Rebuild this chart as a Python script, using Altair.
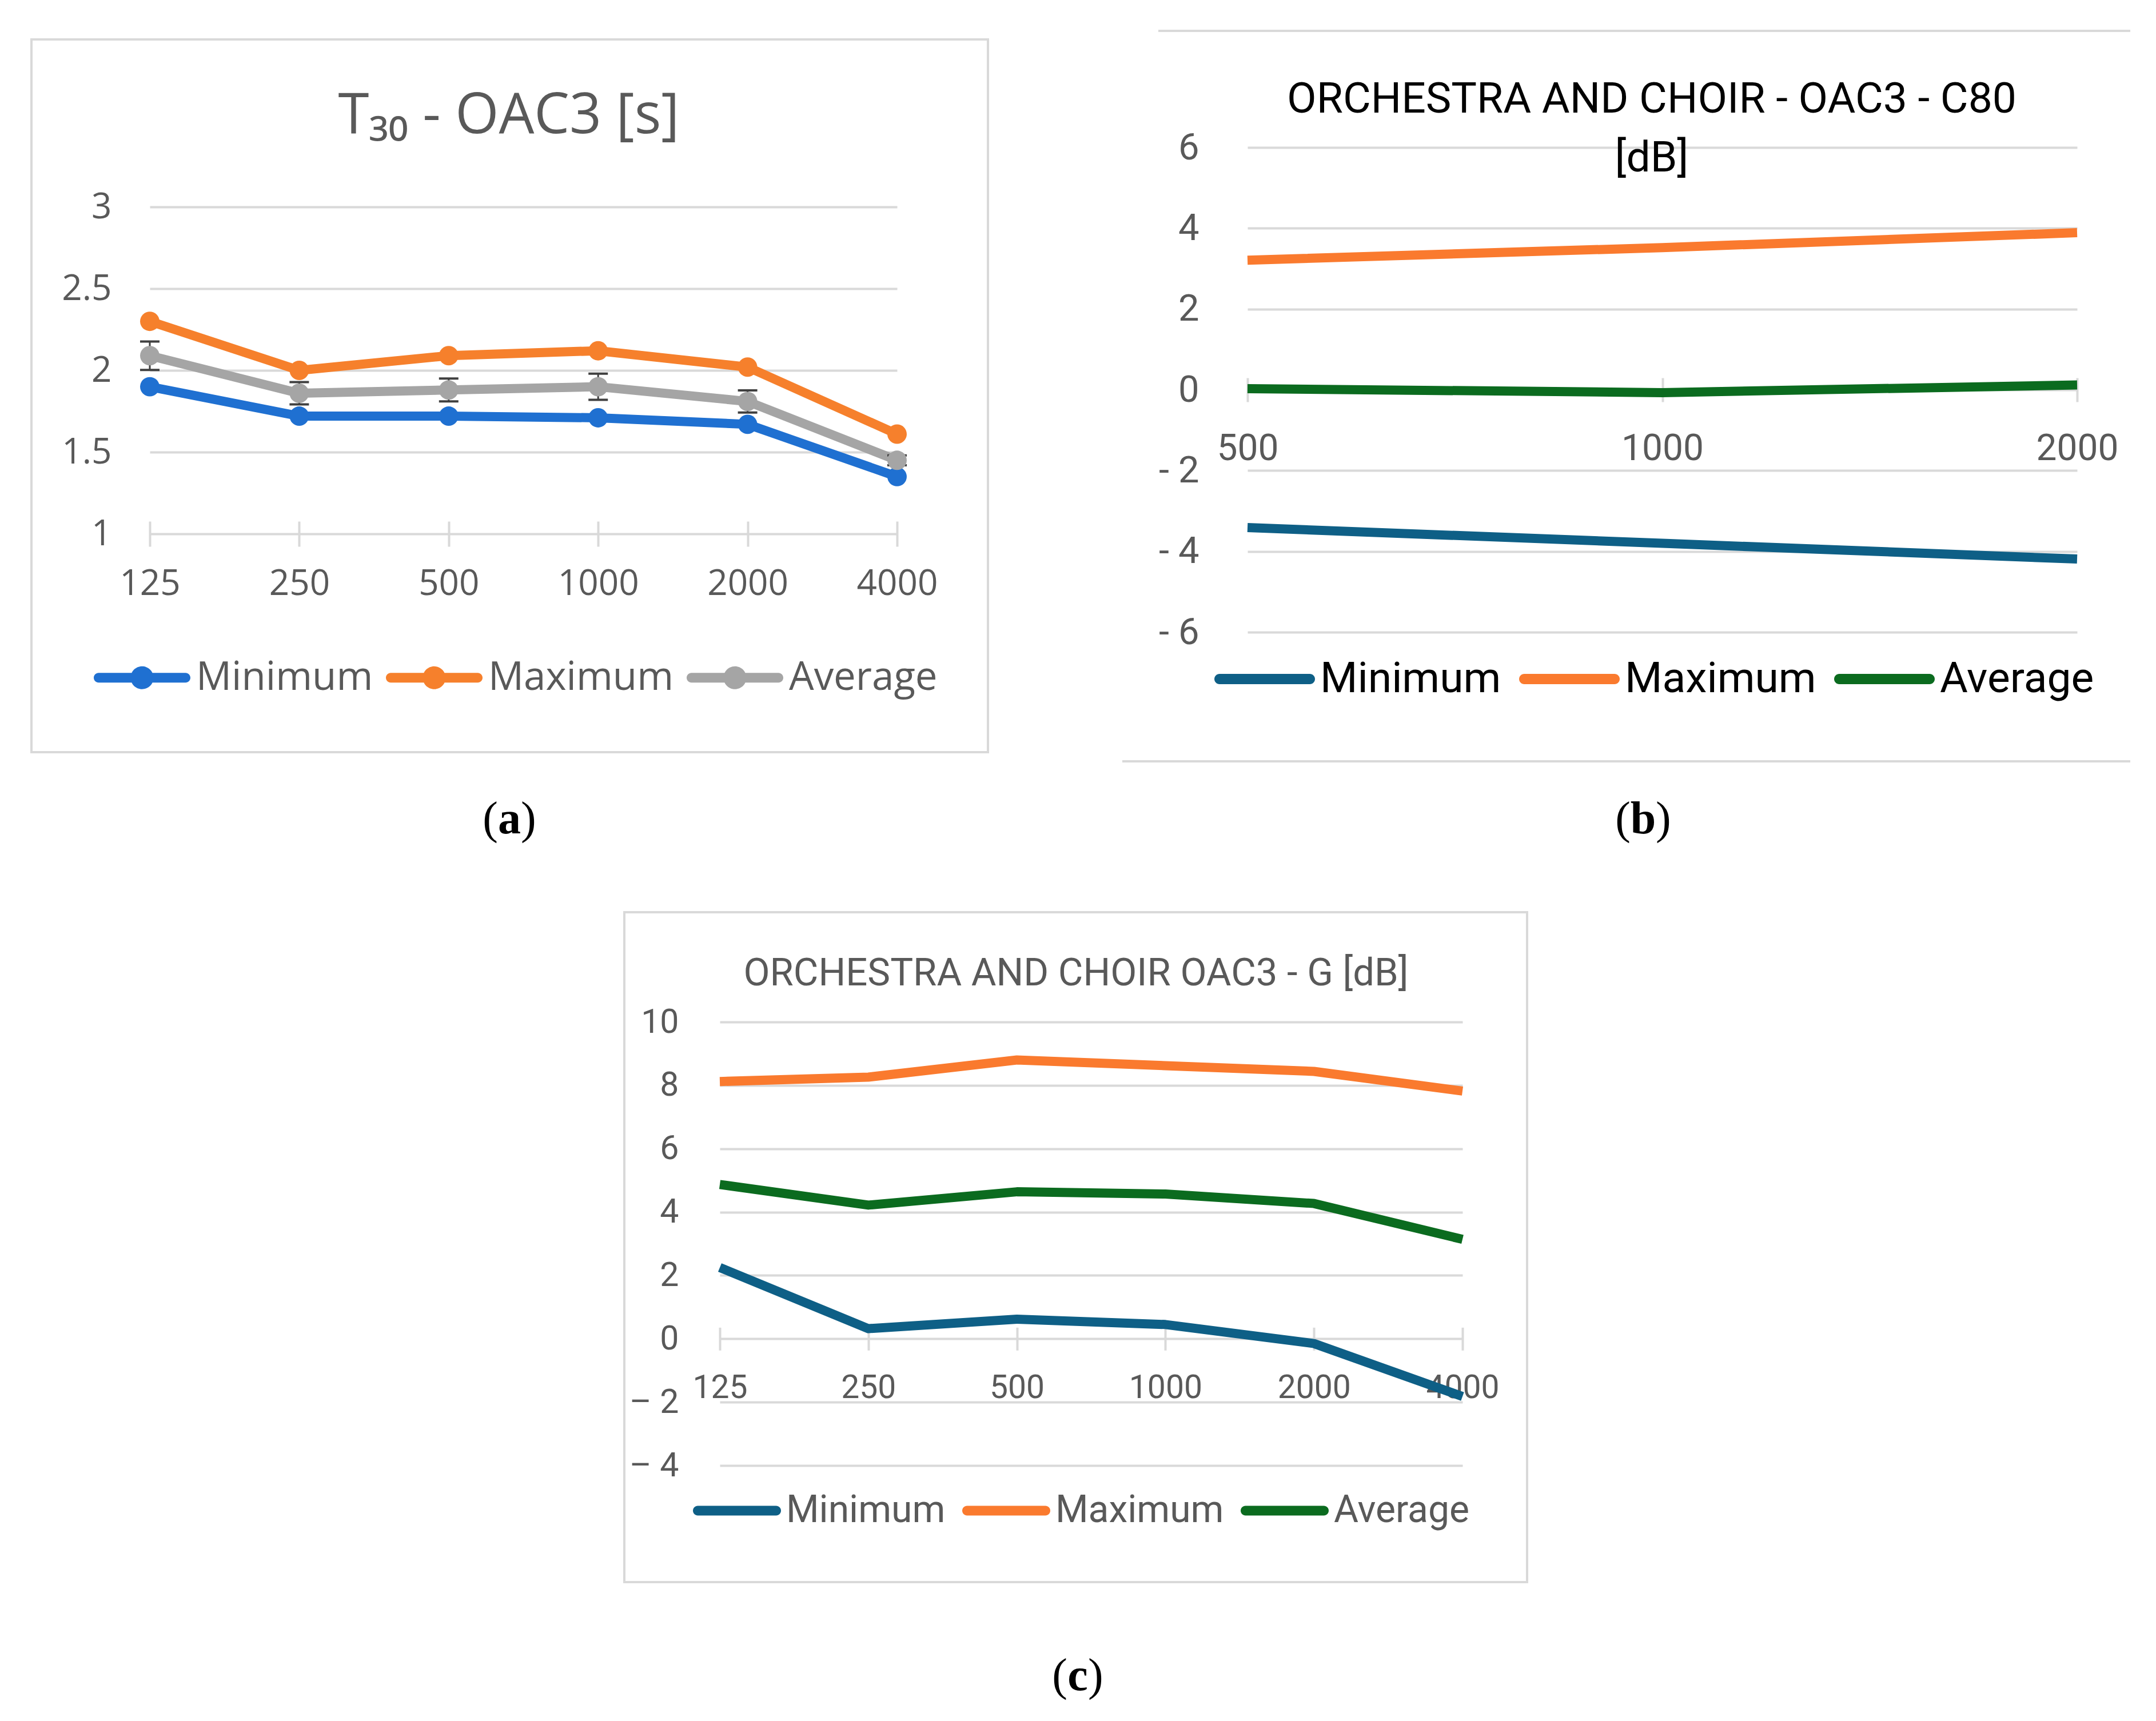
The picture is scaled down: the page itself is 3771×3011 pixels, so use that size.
import altair as alt
import pandas as pd

W, H = 3755, 2995

SERIES = ["Minimum", "Maximum", "Average"]

# ---------- (a) T30 - OAC3 [s] ----------
freq_a = ["125", "250", "500", "1000", "2000", "4000"]
t30_min = [1.90, 1.72, 1.72, 1.71, 1.67, 1.35]
t30_max = [2.30, 2.00, 2.09, 2.12, 2.02, 1.61]
t30_avg = [2.09, 1.86, 1.88, 1.90, 1.81, 1.45]
t30_err = [0.087, 0.068, 0.070, 0.080, 0.068, 0.030]
t30_ticks = [1, 1.5, 2, 2.5, 3]
colors_a = ["#1F70D1", "#F6802C", "#A5A5A5"]

# ---------- (b) C80 [dB] ----------
freq_b = ["500", "1000", "2000"]
c80_min = [-3.41, -3.80, -4.19]
c80_max = [3.21, 3.52, 3.89]
c80_avg = [0.03, -0.07, 0.12]
c80_ticks = [-6, -4, -2, 0, 2, 4, 6]

# ---------- (c) G [dB] ----------
freq_c = ["125", "250", "500", "1000", "2000", "4000"]
g_min = [2.25, 0.32, 0.62, 0.45, -0.15, -1.82]
g_max = [8.12, 8.26, 8.80, 8.62, 8.44, 7.82]
g_avg = [4.87, 4.22, 4.64, 4.57, 4.27, 3.14]
g_ticks = [-4, -2, 0, 2, 4, 6, 8, 10]

colors_bc = ["#0E5F86", "#FA7A2E", "#0B6B1F"]

GRID = "#D9D9D9"
LABEL = "#595959"


def long_frame(freqs, mins, maxs, avgs):
    rows = []
    for s, vals in zip(SERIES, [mins, maxs, avgs]):
        for i, (f, v) in enumerate(zip(freqs, vals)):
            rows.append({"freq": f, "series": s, "value": v, "idx": i})
    return pd.DataFrame(rows)


def capsule(h, extra=""):
    """Filled legend key: a line with round ends, spanning the [-1, 1] symbol box."""
    a = round(-1 + h, 4)
    b = round(1 - h, 4)
    return f"M{a},{-h}H{b}A{h},{h},0,0,1,{b},{h}H{a}A{h},{h},0,0,1,{a},{-h}Z" + extra


rr = 0.237
key_a = capsule(0.1, f" M{rr},0A{rr},{rr},0,1,1,{-rr},0A{rr},{rr},0,1,1,{rr},0Z")
key_b = capsule(0.102)
key_c = capsule(0.11)

one = pd.DataFrame({"k": [0]})

# ================= panel (a) =================
da = long_frame(freq_a, t30_min, t30_max, t30_avg)
ea = pd.DataFrame({
    "freq": freq_a,
    "lo": [m - e for m, e in zip(t30_avg, t30_err)],
    "hi": [m + e for m, e in zip(t30_avg, t30_err)],
})
xa_sc = alt.Scale(type="point", domain=freq_a, range=[254, 1561], padding=0)
ya_sc = alt.Scale(domain=[1, 3], range=[926, 354], nice=False, zero=False)
ca_sc = alt.Scale(domain=SERIES, range=colors_a)

xa_axis = alt.Axis(orient="bottom", offset=904 - H, title=None, domain=False, grid=False,
                   ticks=True, tickSize=44, tickColor=GRID, tickWidth=4,
                   labelFont="Open Sans", labelFontSize=62, labelColor=LABEL,
                   labelPadding=65, labelBaseline="middle", labelAngle=0, labelOverlap=False)
ya_axis = alt.Axis(orient="left", offset=-254, title=None, domain=False, ticks=False,
                   grid=True, gridColor=GRID, gridWidth=4, values=t30_ticks, format="~g",
                   labelFont="Open Sans", labelFontSize=62, labelColor=LABEL, labelPadding=67)
leg_a = alt.Legend(orient="none", legendX=156, legendY=1093, direction="horizontal", title=None,
                   symbolType=key_a, symbolSize=169 ** 2, symbolStrokeWidth=0,
                   labelFont="Open Sans", labelFontSize=69, labelColor=LABEL, labelOffset=10,
                   columnPadding=22, padding=0, labelLimit=2000)

lines_a = alt.Chart(da).mark_line(strokeWidth=16, strokeJoin="round").encode(
    x=alt.X("freq:O", scale=xa_sc, axis=xa_axis),
    y=alt.Y("value:Q", scale=ya_sc, axis=ya_axis),
    color=alt.Color("series:N", scale=ca_sc, legend=None),
    order="idx:Q",
)
err_a = alt.Chart(ea).mark_rule(color="#404040", strokeWidth=3).encode(
    x=alt.X("freq:O", scale=xa_sc, axis=None),
    y=alt.Y("lo:Q", scale=ya_sc, axis=None),
    y2="hi:Q",
)
cap_lo = alt.Chart(ea).mark_tick(color="#404040", thickness=4, size=34, opacity=1).encode(
    x=alt.X("freq:O", scale=xa_sc, axis=None),
    y=alt.Y("lo:Q", scale=ya_sc, axis=None),
)
cap_hi = alt.Chart(ea).mark_tick(color="#404040", thickness=4, size=34, opacity=1).encode(
    x=alt.X("freq:O", scale=xa_sc, axis=None),
    y=alt.Y("hi:Q", scale=ya_sc, axis=None),
)
pts_a = alt.Chart(da).mark_point(filled=True, size=1150, opacity=1, strokeWidth=0).encode(
    x=alt.X("freq:O", scale=xa_sc, axis=None),
    y=alt.Y("value:Q", scale=ya_sc, axis=None),
    fill=alt.Fill("series:N", scale=ca_sc, legend=leg_a),
)

# ================= panel (b) =================
db = long_frame(freq_b, c80_min, c80_max, c80_avg)
xb_sc = alt.Scale(type="point", domain=freq_b, range=[2174, 3625], padding=0)
yb_sc = alt.Scale(domain=[-6, 6], range=[1098, 250], nice=False, zero=False)
cb_sc = alt.Scale(domain=SERIES, range=colors_bc)
xb_axis = alt.Axis(orient="bottom", offset=653 - H, title=None, domain=False, grid=False,
                   ticks=True, tickSize=42, tickColor=GRID, tickWidth=4,
                   labelFont="Roboto", labelFontSize=64, labelColor=LABEL,
                   labelPadding=82, labelBaseline="middle", labelAngle=0, labelOverlap=False)
yb_axis = alt.Axis(orient="left", offset=-2174, title=None, domain=False, ticks=False,
                   grid=True, gridColor=GRID, gridWidth=4, values=c80_ticks,
                   labelExpr="datum.value < 0 ? '- ' + (-datum.value) : '' + datum.value",
                   labelFont="Roboto", labelFontSize=65, labelColor=LABEL, labelPadding=85)
leg_b = alt.Legend(orient="none", legendX=2116, legendY=1092, direction="horizontal", title=None,
                   symbolType=key_b, symbolSize=176 ** 2, symbolStrokeWidth=0,
                   labelFont="Roboto", labelFontSize=75, labelColor="#000000", labelOffset=9,
                   columnPadding=31, padding=0, labelLimit=2000)
lines_b = alt.Chart(db).mark_line(strokeWidth=16, strokeJoin="round").encode(
    x=alt.X("freq:O", scale=xb_sc, axis=xb_axis),
    y=alt.Y("value:Q", scale=yb_sc, axis=yb_axis),
    color=alt.Color("series:N", scale=cb_sc, legend=None),
    order="idx:Q",
)
keys_b = alt.Chart(db).mark_point(filled=True, size=0, opacity=1, strokeWidth=0).encode(
    x=alt.X("freq:O", scale=xb_sc, axis=None),
    y=alt.Y("value:Q", scale=yb_sc, axis=None),
    fill=alt.Fill("series:N", scale=cb_sc, legend=leg_b),
)

# ================= panel (c) =================
dc = long_frame(freq_c, g_min, g_max, g_avg)
xc_sc = alt.Scale(type="point", domain=freq_c, range=[1251, 2550], padding=0)
yc_sc = alt.Scale(domain=[-4, 10], range=[2556, 1780], nice=False, zero=False)
cc_sc = alt.Scale(domain=SERIES, range=colors_bc)
xc_axis = alt.Axis(orient="bottom", offset=2314.3 - H, title=None, domain=False, grid=False,
                   ticks=True, tickSize=40, tickColor=GRID, tickWidth=4,
                   labelFont="Roboto", labelFontSize=57, labelColor=LABEL,
                   labelPadding=65.7, labelBaseline="middle", labelAngle=0, labelOverlap=False)
yc_axis = alt.Axis(orient="left", offset=-1251, title=None, domain=False, ticks=False,
                   grid=True, gridColor=GRID, gridWidth=4, values=g_ticks,
                   labelExpr="datum.value < 0 ? '\u2013 ' + (-datum.value) : '' + datum.value",
                   labelFont="Roboto", labelFontSize=59, labelColor=LABEL, labelPadding=72)
leg_c = alt.Legend(orient="none", legendX=1204, legendY=2558, direction="horizontal", title=None,
                   symbolType=key_c, symbolSize=154 ** 2, symbolStrokeWidth=0,
                   labelFont="Roboto", labelFontSize=66, labelColor=LABEL, labelOffset=9,
                   columnPadding=29, padding=0, labelLimit=2000)
lines_c = alt.Chart(dc).mark_line(strokeWidth=16, strokeJoin="round").encode(
    x=alt.X("freq:O", scale=xc_sc, axis=xc_axis),
    y=alt.Y("value:Q", scale=yc_sc, axis=yc_axis),
    color=alt.Color("series:N", scale=cc_sc, legend=None),
    order="idx:Q",
)
keys_c = alt.Chart(dc).mark_point(filled=True, size=0, opacity=1, strokeWidth=0).encode(
    x=alt.X("freq:O", scale=xc_sc, axis=None),
    y=alt.Y("value:Q", scale=yc_sc, axis=None),
    fill=alt.Fill("series:N", scale=cc_sc, legend=leg_c),
)

# ================= frames, titles, sub-figure labels =================
frame_a = alt.Chart(one).mark_rect(fillOpacity=0, stroke=GRID, strokeWidth=4).encode(
    x=alt.value(47), x2=alt.value(1720), y=alt.value(61), y2=alt.value(1308))
frame_c = alt.Chart(one).mark_rect(fillOpacity=0, stroke=GRID, strokeWidth=4).encode(
    x=alt.value(1084), x2=alt.value(2663), y=alt.value(1588), y2=alt.value(2760))
rule_b_top = alt.Chart(one).mark_rule(color=GRID, strokeWidth=4).encode(
    x=alt.value(2018), x2=alt.value(3718), y=alt.value(46))
rule_b_bot = alt.Chart(one).mark_rule(color=GRID, strokeWidth=4).encode(
    x=alt.value(1955), x2=alt.value(3718), y=alt.value(1324))


def text_layer(txt, x, y, font, size, color, weight="normal", align="center", baseline="alphabetic"):
    return alt.Chart(one).mark_text(font=font, fontSize=size, color=color, fontWeight=weight,
                                    align=align, baseline=baseline).encode(
        x=alt.value(x), y=alt.value(y), text=alt.value(txt))


title_a = text_layer("T\u2083\u2080 - OAC3 [s]", 882, 225, "Open Sans", 98, LABEL)
title_b1 = text_layer("ORCHESTRA AND CHOIR - OAC3 - C80", 2881, 189, "Roboto", 75, "#000000")
title_b2 = text_layer("[dB]", 2881, 292, "Roboto", 75, "#000000")
title_c = text_layer("ORCHESTRA AND CHOIR OAC3 - G [dB]", 1874, 1716, "Roboto", 67, LABEL)


def sub_label(letter, cx, cy, half):
    serif = "Liberation Serif"
    return [
        text_layer("(", cx - half, cy, serif, 80, "#000000", align="right", baseline="middle"),
        text_layer(letter, cx, cy, serif, 80, "#000000", weight="bold", baseline="middle"),
        text_layer(")", cx + half, cy, serif, 80, "#000000", align="left", baseline="middle"),
    ]


labels = sub_label("a", 883, 1426, 20) + sub_label("b", 2866, 1426, 22) + sub_label("c", 1877, 2925, 18)

chart = alt.layer(
    frame_a, frame_c, rule_b_top, rule_b_bot,
    lines_a, err_a, cap_lo, cap_hi, pts_a,
    lines_b, keys_b, lines_c, keys_c,
    title_a, title_b1, title_b2, title_c, *labels,
).resolve_scale(
    x="independent", y="independent", color="independent", fill="independent"
).properties(
    width=W, height=H, padding=0, background="#FFFFFF",
    autosize=alt.AutoSizeParams(type="none"),
).configure_view(stroke="transparent")

chart.save("out.html", embed_options={"renderer": "svg", "actions": False})
